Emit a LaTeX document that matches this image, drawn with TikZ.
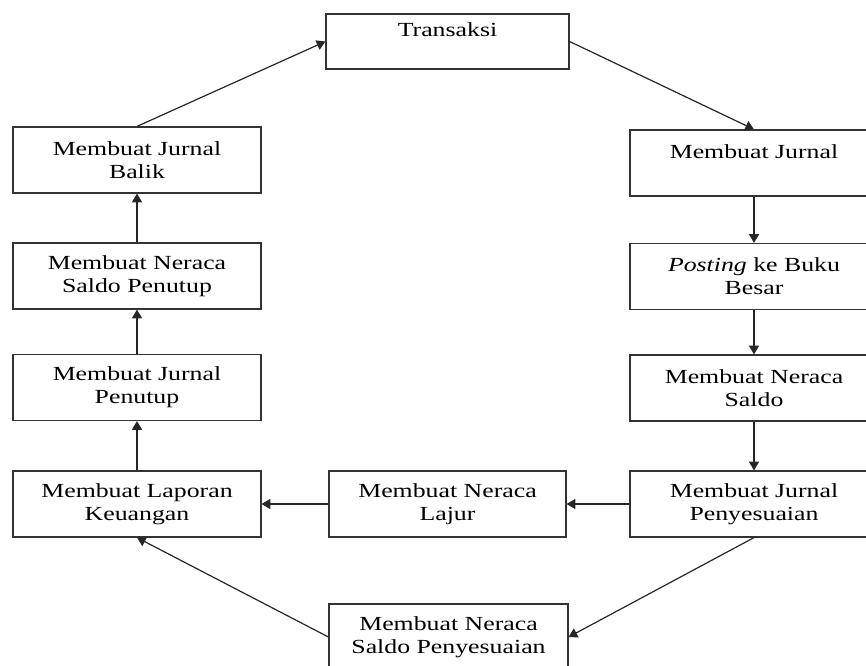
\documentclass[tikz,border=0pt]{standalone}
\usepackage{fontspec}
\setmainfont[FakeStretch=1.29]{Liberation Serif}
\usetikzlibrary{arrows.meta}
\tikzset{
  >={Triangle[length=6.5pt,width=7.5pt]},
  box/.style={draw=black!80, line width=0.9pt, align=center, inner sep=2pt,
              font=\fontsize{15}{17.25}\selectfont},
  colbox/.style={box, minimum width=186pt, minimum height=49.5pt},
  flow/.style={->, draw=black!85, line width=0.9pt},
}

\begin{document}
\begin{tikzpicture}[x=0.75pt,y=-0.75pt]
  \useasboundingbox (0,0) rectangle (866,666);
  \clip (0,0) rectangle (866,666);
  \node[box,minimum width=182.25pt,minimum height=41.25pt] (tr) at (447.5,41.5) {Transaksi\\~};
  % right column
  \node[colbox] (jur) at (754,163) {Membuat Jurnal\\~};
  \node[colbox] (post) at (754,276.5) {\textit{Posting} ke Buku\\Besar};
  \node[colbox] (sal) at (754,388) {Membuat Neraca\\Saldo};
  \node[colbox] (jp) at (754,504) {Membuat Jurnal\\Penyesuaian};
  % bottom row
  \node[box,minimum width=177.75pt,minimum height=49.5pt] (lajur) at (447.5,504) {Membuat Neraca\\Lajur};
  \node[box,minimum width=179.25pt,minimum height=49.5pt] (sp) at (448.5,637) {Membuat Neraca\\Saldo Penyesuaian};
  % left column
  \node[colbox] (lap) at (137,504) {Membuat Laporan\\Keuangan};
  \node[colbox] (jpen) at (137,387.5) {Membuat Jurnal\\Penutup};
  \node[colbox] (nsp) at (137,276) {Membuat Neraca\\Saldo Penutup};
  \node[colbox] (balik) at (137,160) {Membuat Jurnal\\Balik};
  % cycle arrows
  \draw[flow] (tr.east) -- (jur.north);
  \foreach \a/\b in {jur/post,post/sal,sal/jp,lap/jpen,jpen/nsp,nsp/balik}{\draw[flow] (\a) -- (\b);}
  \draw[flow] (jp) -- (lajur);
  \draw[flow] (lajur) -- (lap);
  \draw[flow] (jp.south) -- (sp.east);
  \draw[flow] (sp.west) -- (lap.south);
  \draw[flow] (balik.north) -- (tr.west);
\end{tikzpicture}
\end{document}
